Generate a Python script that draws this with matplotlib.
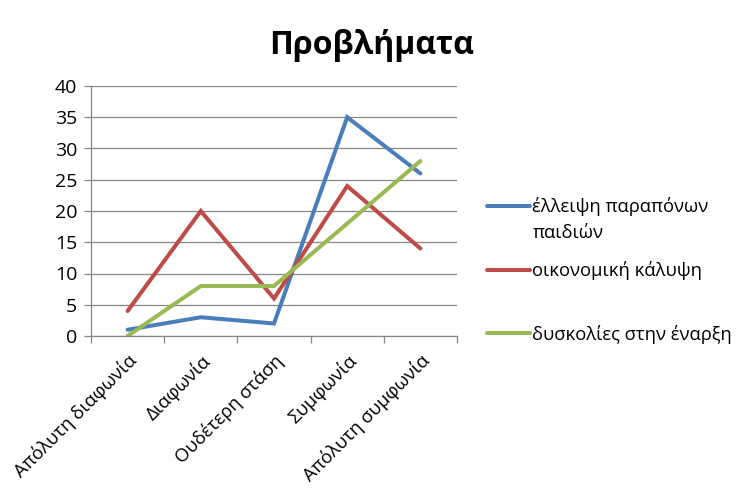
import matplotlib
matplotlib.use("Agg")
import matplotlib.pyplot as plt

plt.rcParams['font.family'] = ['Open Sans', 'Noto Sans', 'DejaVu Sans']

categories = ["Απόλυτη διαφωνία", "Διαφωνία", "Ουδέτερη στάση", "Συμφωνία", "Απόλυτη συμφωνία"]
series_names = ["έλλειψη παραπόνων παιδιών", "οικονομική κάλυψη", "δυσκολίες στην έναρξη"]
s_elleipsi = [1, 3, 2, 35, 26]
s_oikonomiki = [4, 20, 6, 24, 14]
s_dyskolies = [0, 8, 8, 18, 28]
yticks = [0, 5, 10, 15, 20, 25, 30, 35, 40]
title = "Προβλήματα"

colors = ["#4A7EBB", "#BE4B48", "#98B954"]

fig = plt.figure(figsize=(7.45, 5.0), dpi=100)
ax = fig.add_axes([91/745, 1-336/500, (457-91)/745, (336-86)/500])

x = list(range(len(categories)))
lines = []
for vals, c in zip([s_elleipsi, s_oikonomiki, s_dyskolies], colors):
    ln, = ax.plot(x, vals, color=c, lw=2.9, solid_capstyle='round', solid_joinstyle='miter')
    lines.append(ln)

ax.set_xlim(-0.5, len(categories) - 0.5)
ax.set_ylim(0, 40)
ax.set_yticks(yticks)
ax.set_yticklabels([str(v) for v in yticks], fontsize=14)
ax.yaxis.grid(True, color="#868686", lw=0.9)
ax.set_axisbelow(True)

ax.set_xticks(x)
ax.set_xticklabels(categories, rotation=45, ha='right', rotation_mode='anchor', fontsize=13.3)
ax.set_xticks([i - 0.5 for i in range(len(categories) + 1)], minor=True)
ax.tick_params(axis='x', which='major', length=0, pad=11)
ax.tick_params(axis='x', which='minor', length=5, color="#868686", width=0.9)
ax.tick_params(axis='y', length=5, color="#868686", width=0.9, pad=5)

for s in ['top', 'right']:
    ax.spines[s].set_visible(False)
for s in ['left', 'bottom']:
    ax.spines[s].set_color("#868686")
    ax.spines[s].set_linewidth(0.9)

fig.text(372/745, 1-45/500, title, ha='center', va='center', fontsize=23, fontweight='bold')

# Legend: wrap the long first name, continuation placed under its first line
wrap_first, wrap_rest = "έλλειψη παραπόνων", "παιδιών"
leg_labels = [wrap_first if n.startswith(wrap_first) else n for n in series_names]
leg = fig.legend(lines, leg_labels, loc='upper left', bbox_to_anchor=(487/745, 1-197/500),
                 frameon=False, fontsize=13.2, handlelength=2.35, handletextpad=0.12,
                 labelspacing=2.45, borderpad=0, borderaxespad=0)
t0 = leg.get_texts()[0]
ann = plt.Annotation(wrap_rest, xy=(0, 0), xycoords=t0, xytext=(0, -6),
                     textcoords='offset points', ha='left', va='top', fontsize=13.2)
ann.set_zorder(10)
fig.add_artist(ann)

fig.savefig("out.png", dpi=100)
